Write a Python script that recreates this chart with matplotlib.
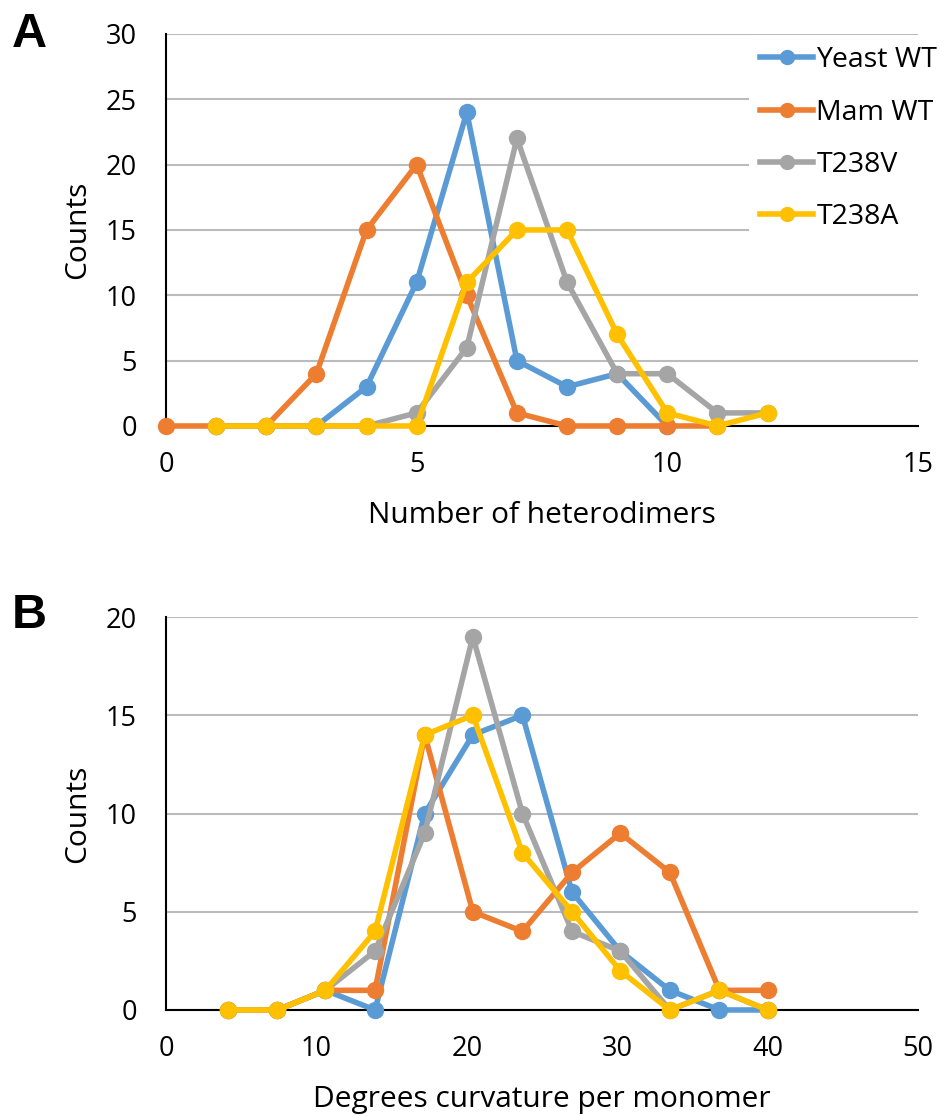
import numpy as np
from matplotlib import pyplot as plt

plt.rcParams["font.family"] = ["Open Sans", "DejaVu Sans"]

nan = np.nan
series_names = ["Yeast WT", "Mam WT", "T238V", "T238A"]
series_colors = ["#5B9BD5", "#ED7D31", "#A5A5A5", "#FFC000"]

# panel A: number of heterodimers per filament
heterodimers = [0, 1, 2, 3, 4, 5, 6, 7, 8, 9, 10, 11, 12]
yeast_wt_a = [nan, 0, 0, 0, 3, 11, 24, 5, 3, 4, 0, nan, nan]
mam_wt_a = [0, 0, 0, 4, 15, 20, 10, 1, 0, 0, 0, 0, nan]
t238v_a = [nan, 0, 0, 0, 0, 1, 6, 22, 11, 4, 4, 1, 1]
t238a_a = [nan, 0, 0, 0, 0, 0, 11, 15, 15, 7, 1, 0, 1]

# panel B: curvature per monomer (bin centres in degrees)
curvature = [4.1, 7.4, 10.6, 13.9, 17.2, 20.4, 23.7, 27.0, 30.2, 33.5, 36.8, 40.0]
yeast_wt_b = [0, 0, 1, 0, 10, 14, 15, 6, 3, 1, 0, 0]
mam_wt_b = [0, 0, 1, 1, 14, 5, 4, 7, 9, 7, 1, 1]
t238v_b = [0, 0, 1, 3, 9, 19, 10, 4, 3, 0, 1, 0]
t238a_b = [0, 0, 1, 4, 14, 15, 8, 5, 2, 0, 1, 0]


def style_axes(ax, xmax, xstep, ymax, ystep, xlabel):
    ax.set_xlim(0, xmax)
    ax.set_ylim(0, ymax)
    ax.set_xticks(np.arange(0, xmax + 1, xstep))
    ax.set_yticks(np.arange(0, ymax + 1, ystep))
    ax.grid(axis="y", color="#BBBBBB", linewidth=1.5)
    ax.set_axisbelow(True)
    for side in ["top", "right"]:
        ax.spines[side].set_visible(False)
    for side in ["left", "bottom"]:
        ax.spines[side].set_color("black")
        ax.spines[side].set_linewidth(1.5)
    ax.tick_params(axis="both", length=0, labelsize=19.5)
    ax.tick_params(axis="x", pad=18)
    ax.tick_params(axis="y", pad=21)
    ax.set_xlabel(xlabel, fontsize=21.5)
    ax.set_ylabel("Counts", fontsize=21.5)
    ax.xaxis.set_label_coords(0.5, -0.229)
    ax.xaxis.label.set_verticalalignment("center")
    ax.yaxis.set_label_coords(-0.118, 0.5)
    ax.yaxis.label.set_verticalalignment("center")


def plot_series(ax, x, values):
    for name, color, y in zip(series_names, series_colors, values):
        ax.plot(x, y, color=color, linewidth=4, marker="o", markersize=11.5,
                label=name, clip_on=False, zorder=3)


fig = plt.figure(figsize=(9.4, 11.16), dpi=100)
ax_a = fig.add_axes([0.1766, 0.6183, 0.8, 0.3513])
ax_b = fig.add_axes([0.1766, 0.0950, 0.8, 0.3521])

plot_series(ax_a, heterodimers, [yeast_wt_a, mam_wt_a, t238v_a, t238a_a])
style_axes(ax_a, 15, 5, 30, 5, "Number of heterodimers")

plot_series(ax_b, curvature, [yeast_wt_b, mam_wt_b, t238v_b, t238a_b])
style_axes(ax_b, 50, 10, 20, 5, "Degrees curvature per monomer")

leg = ax_a.legend(loc="upper left", bbox_to_anchor=(749 / 940, 1 - 35 / 1116),
                  bbox_transform=fig.transFigure, fontsize=20.5, frameon=True,
                  facecolor="white", edgecolor="none", framealpha=1, fancybox=False,
                  borderpad=0.4, borderaxespad=0, handlelength=1.85,
                  handletextpad=0.12, labelspacing=0.85, numpoints=1)
for line in leg.get_lines():
    line.set_markersize(10)

for label, ytop in [("A", 12), ("B", 593)]:
    fig.text(12 / 940, 1 - ytop / 1116, label, ha="left", va="top",
             fontsize=35, fontweight="bold", family="Liberation Sans")

fig.savefig("out.png", dpi=100, facecolor="white")
